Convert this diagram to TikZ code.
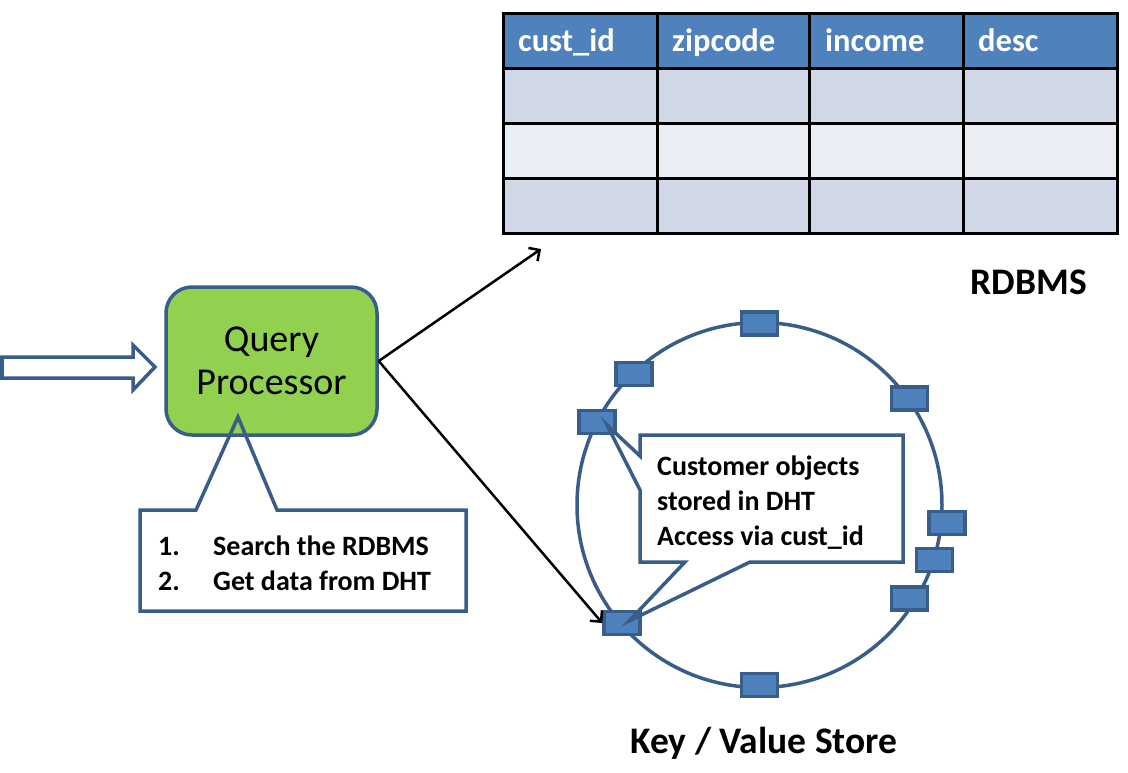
\documentclass[tikz,border=0pt]{standalone}
\usepackage{fontspec}
\setmainfont{Carlito}
\usetikzlibrary{arrows.meta}
\definecolor{obord}{HTML}{385D8A}
\definecolor{ohead}{HTML}{4F81BD}
\definecolor{orowA}{HTML}{D0D8E8}
\definecolor{orowB}{HTML}{E9EDF4}
\definecolor{ogreen}{HTML}{92D050}
\tikzset{
  cell/.style={draw=black, line width=2.5pt, minimum width=154pt, minimum height=55pt, inner sep=0pt, anchor=north west},
  headtxt/.style={text=white, font=\bfseries\fontsize{32.5}{36}\selectfont, anchor=base west, inner sep=0pt},
  sq/.style={draw=obord, fill=ohead, line width=3.5pt, minimum width=36pt, minimum height=23pt, inner sep=0pt},
  calltxt/.style={font=\bfseries\fontsize{28}{32}\selectfont, anchor=base west, inner sep=0pt},
  callout/.style={draw=obord, line width=3.5pt, line join=miter},
  conn/.style={draw=black, line width=2.5pt, -{Straight Barb[length=8pt,width=16pt]}},
  bigbold/.style={font=\bfseries\fontsize{37.5}{42}\selectfont, inner sep=0pt}
}
\begin{document}
\begin{tikzpicture}[x=1pt,y=-1pt]
\useasboundingbox (0,0) rectangle (1128,772);
\fill[white] (0,0) rectangle (1128,772);
% table
\foreach \c/\w [count=\i] in {502/154,656/152,808/154,962/154}{
  \node[cell, fill=ohead, minimum width=\w pt] (h\i) at (\c,12) {};
  \node[cell, fill=orowA, minimum width=\w pt] (ra\i) at (\c,67) {};
  \node[cell, fill=orowB, minimum width=\w pt] (rb\i) at (\c,122) {};
  \node[cell, fill=orowA, minimum width=\w pt] (rc\i) at (\c,177) {};
}
\node[headtxt] (t1) at (518,51) {cust\_id};
\node[headtxt] (t2) at (672,51) {zipcode};
\node[headtxt] (t3) at (825,51) {income};
\node[headtxt] (t4) at (978,51) {desc};
\coordinate (tabin) at (541,249);
\node[bigbold] (rdbms) at (1029,282) {RDBMS};
% input block arrow
\draw[obord, line width=3.5pt, fill=white, line join=miter] (2,357) -- (133,357) -- (133,345) -- (155,367) -- (133,390) -- (133,378) -- (2,378) -- cycle;
% query processor
\node[draw=obord, fill=ogreen, line width=3.5pt, rounded corners=26pt, minimum width=211pt, minimum height=148pt, align=center, font=\fontsize{38}{45}\selectfont, inner sep=0pt] (qp) at (271.5,361) {Query\\[-2pt]Processor};
% ring
\draw[obord, line width=3.5pt] (759.5,505) circle[radius=182.5];
\node[sq] (s1) at (759.5,323.5) {};
\node[sq] (s2) at (634,374) {};
\node[sq] (s3) at (597,422) {};
\node[sq] (s4) at (909.5,398.5) {};
\node[sq] (s5) at (947,523) {};
\node[sq] (s6) at (934.5,560) {};
\node[sq] (s7) at (909.5,598.5) {};
\node[sq] (s8) at (622,623) {};
\node[sq] (s9) at (759.5,685) {};
% connectors
\draw[conn] (qp.east) -- (tabin);
\draw[conn] (qp.east) -- (s8.west);
% callout 1
\draw[callout] (140,510) -- (196,510) -- (238,417) -- (277,510) -- (466,510) -- (466,611) -- (140,611) -- cycle;
\node[calltxt] (n1) at (158,555) {1.};
\node[calltxt] (l1) at (213,555) {Search the RDBMS};
\node[calltxt] (n2) at (158,590) {2.};
\node[calltxt] (l2) at (213,590) {Get data from DHT};
% callout 2
\draw[callout] (640,435) -- (903,435) -- (903,562) -- (750,562) -- (629,621) -- (685,562) -- (640,562) -- (640,490) -- (607,425) -- (640,456) -- cycle;
\node[calltxt] (c1) at (657,475) {Customer objects};
\node[calltxt] (c2) at (657,510) {stored in DHT};
\node[calltxt] (c3) at (657,545) {Access via cust\_id};
\node[bigbold] (kv) at (764,743) {Key / Value Store};
\end{tikzpicture}
\end{document}
